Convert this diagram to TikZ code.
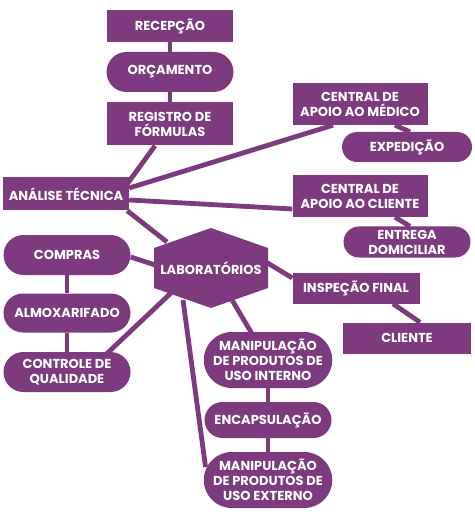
\documentclass[tikz,border=0pt]{standalone}
\usepackage{fontspec}
\setmainfont{Poppins}
\usetikzlibrary{shapes.misc, backgrounds, calc}
\definecolor{roxo}{RGB}{125,58,127}

\begin{document}
\begin{tikzpicture}[x=1pt, y=-1pt,
        box/.style={rectangle, fill=roxo, text=white, font=\bfseries\fontsize{13}{15}\selectfont, align=center, inner sep=0pt, minimum width=126pt},
        pill/.style={rounded rectangle, fill=roxo, text=white, font=\bfseries\fontsize{13}{15}\selectfont, align=center, inner sep=0pt, minimum width=127pt},
        link/.style={draw=roxo, line width=4.8pt}]
    \useasboundingbox (0,0) rectangle (474,518);

    % coluna de cima
    \node[box, minimum height=32pt]  (rec) at (170,26)  {RECEPÇÃO};
    \node[pill, minimum height=40pt] (orc) at (170,72)  {ORÇAMENTO};
    \node[box, minimum height=43pt]  (reg) at (170,124) {REGISTRO DE\\FÓRMULAS};

    % centrais
    \node[box, minimum width=135pt, minimum height=42pt] (cam) at (360,104) {CENTRAL DE\\APOIO AO MÉDICO};
    \node[pill, minimum width=130pt, minimum height=30pt] (exp) at (407,147) {EXPEDIÇÃO};
    \node[box, minimum width=135pt, minimum height=42pt] (cac) at (360,196) {CENTRAL DE\\APOIO AO CLIENTE};
    \node[pill, minimum height=31pt] (ent) at (407,242) {ENTREGA\\DOMICILIAR};

    % esquerda
    \node[box, minimum height=33pt]  (ana) at (66,194)  {ANÁLISE TÉCNICA};
    \node[pill, minimum height=40pt] (com) at (67,255)  {COMPRAS};
    \node[pill, minimum height=39pt] (alm) at (67,313)  {ALMOXARIFADO};
    \node[pill, minimum height=40pt] (cq)  at (67,372)  {CONTROLE DE\\QUALIDADE};

    % laboratorios
    \node[text=white, font=\bfseries\fontsize{13}{15}\selectfont, inner sep=0pt] (lab) at (211,268) {LABORATÓRIOS};
    \begin{scope}[on background layer]
        \fill[roxo] ($(lab)+(0,-40)$) -- ($(lab)+(57,-20)$) -- ($(lab)+(57,20)$)
            -- ($(lab)+(0,40)$) -- ($(lab)+(-57,20)$) -- ($(lab)+(-57,-20)$) -- cycle;
    \end{scope}

    % direita
    \node[box, minimum width=127pt, minimum height=31pt] (ins) at (356,288) {INSPEÇÃO FINAL};
    \node[box, minimum width=128pt, minimum height=31pt] (cli) at (407,338) {CLIENTE};

    % manipulacao
    \node[pill, minimum height=56pt] (mpi) at (268,360) {MANIPULAÇÃO\\DE PRODUTOS DE\\USO INTERNO};
    \node[pill, minimum height=36pt] (enc) at (268,420) {ENCAPSULAÇÃO};
    \node[pill, minimum height=56pt] (mpe) at (268,480) {MANIPULAÇÃO\\DE PRODUTOS DE\\USO EXTERNO};

    % ligacoes
    \begin{scope}[on background layer]
        \draw[link] (rec.south) -- (orc.north);
        \draw[link] (orc.south) -- (reg.north);
        \draw[link] ($(reg.south)+(-15,0)$) -- ($(ana.east)+(-2,-10)$);
        \draw[link] ($(ana.east)+(0,-6)$) -- ($(cam.south)+(-27,0)$);
        \draw[link] ($(ana.east)+(0,6)$) -- ($(cac.west)+(0,13)$);
        \draw[link] ($(ana.south east)+(-2,0)$) -- ($(lab)+(-44,-26)$);
        \draw[link] ($(com.east)+(0,2)$) -- ($(lab)+(-56,-3)$);
        \draw[link] (com.south) -- (alm.north);
        \draw[link] (alm.south) -- (cq.north);
        \draw[link] ($(cq.north east)+(-6,4)$) -- ($(lab)+(-40,25)$);
        \draw[link] ($(lab)+(-28,32)$) -- ($(mpe.west)+(2,-13)$);
        \draw[link] ($(lab)+(21,32)$) -- ($(mpi.north)+(-16,2)$);
        \draw[link] (mpi.south) -- (enc.north);
        \draw[link] (enc.south) -- (mpe.north);
        \draw[link] ($(lab)+(55,-6)$) -- ($(ins.west)+(0,-10)$);
        \draw[link] ($(ins.south)+(37,0)$) -- ($(cli.north)+(13,0)$);
        \draw[link] ($(cam.south)+(35,0)$) -- ($(exp.north)+(3,0)$);
        \draw[link] ($(cac.south)+(35,0)$) -- ($(ent.north)+(3,0)$);
    \end{scope}
\end{tikzpicture}
\end{document}
